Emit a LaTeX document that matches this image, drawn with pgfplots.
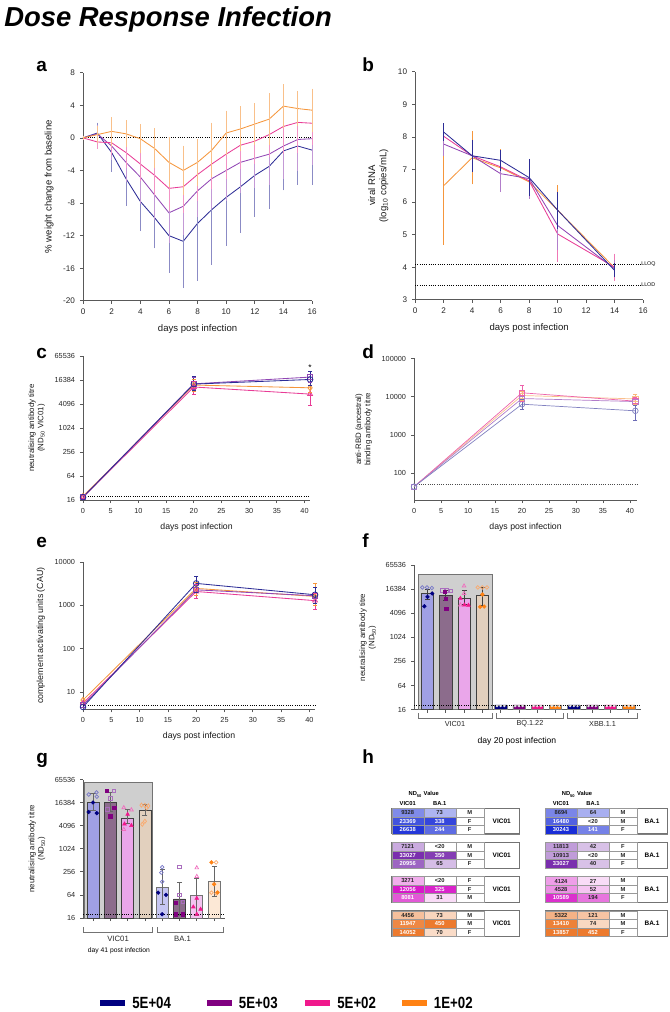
\documentclass[border=0pt]{standalone}
\usepackage{fontspec}
\setmainfont{Liberation Sans}
\newfontfamily\legfont[FakeStretch=0.82]{Liberation Sans}
\usepackage{pgfplots}
\pgfplotsset{compat=1.18}

\definecolor{cB}{RGB}{45,45,150}
\definecolor{cP}{RGB}{145,70,180}
\definecolor{cK}{RGB}{232,60,150}
\definecolor{cO}{RGB}{245,150,60}
\definecolor{lB}{RGB}{0,0,128}
\definecolor{lP}{RGB}{128,0,128}
\definecolor{lK}{RGB}{240,24,140}
\definecolor{lO}{RGB}{255,130,20}
\definecolor{oB}{RGB}{120,120,200}
\definecolor{oP}{RGB}{170,110,190}
\definecolor{oK}{RGB}{240,110,190}
\definecolor{oO}{RGB}{250,170,110}
\definecolor{fB}{RGB}{160,160,228}
\definecolor{fP}{RGB}{140,108,140}
\definecolor{fK}{RGB}{234,166,234}
\definecolor{fO}{RGB}{226,208,190}
\definecolor{gB}{RGB}{198,198,242}
\definecolor{gK}{RGB}{242,196,240}
\definecolor{gO}{RGB}{252,232,214}
\definecolor{tb}{RGB}{25,45,215}
\definecolor{tp}{RGB}{115,35,170}
\definecolor{tk}{RGB}{215,25,200}
\definecolor{to}{RGB}{235,115,35}

\pgfplotsset{
  panel/.style={
    scale only axis, axis lines=left,
    axis line style={-, draw=black!65, line width=0.6pt},
    tick align=outside, major tick length=2.2pt,
    tick style={draw=black!65, line width=0.5pt},
    tick label style={font=\fontsize{5.2}{6}\selectfont, text=black!85},
    label style={font=\fontsize{6.2}{7.5}\selectfont, text=black!90},
    /pgf/number format/assume math mode=true,
    xminorticks=false, yminorticks=false,
    clip=false, anchor=south west,
  },
  errseg/.style={mark=-, mark size=1.5pt, unbounded coords=jump, line width=0.5pt, mark options={solid, line width=0.5pt}},
  ebar/.style={error bars/.cd, y dir=both, y explicit,
    error bar style={#1, line width=0.55pt},
    error mark=-, error mark options={#1, mark size=1.5pt, line width=0.55pt}},
}

% group bracket under a log2 axis starting at 16: from, to, centre, label, top, bottom, label offset, font size
\newcommand\brk[8]{%
  \draw[black!55, line width=0.5pt] ([yshift=-#5]axis cs:#1,16) -- ([yshift=-#6]axis cs:#1,16) -- ([yshift=-#6]axis cs:#2,16) -- ([yshift=-#5]axis cs:#2,16);
  \node[font=\fontsize{#8}{6}\selectfont, text=black!85] at ([yshift=-#7]axis cs:#3,16) {#4};}

\newcommand\tf{\fontsize{4.1}{4.5}\selectfont\bfseries}
\newcommand\tc[6]{\path[fill=#4, draw=black!40, line width=0.25pt] (#1,#2) rectangle ++(#3,8.5);
  \node[font=\tf, text=#5, inner sep=0] at ({#1+#3/2},{#2+4.4}) {#6};}
\newcommand\trow[9]{\tc{#1}{#2}{32}{#3}{#4}{#5}\tc{#1+32}{#2}{32}{#6}{#7}{#8}\tc{#1+64}{#2}{28}{white}{black!85}{#9}}
\newcommand\tblk[4]{\path[draw=black!50, line width=0.35pt, fill=white] ({#1+92},#2) rectangle ++(#3,25.5);
  \node[font=\fontsize{4.6}{5}\selectfont\bfseries] at ({#1+92+#3/2},{#2+12.75}) {#4};
  \draw[black!55, line width=0.45pt] (#1,#2) rectangle ({#1+92+#3},{#2+25.5});}

\begin{document}
\begin{tikzpicture}
\begin{scope}[x=0.025cm, y=-0.025cm]
\path (0,0) rectangle (670,1012);
\node[anchor=north west, inner sep=0, font=\fontsize{19.5}{22}\selectfont\bfseries\itshape] at (4,6) {Dose Response Infection};
\foreach \l/\x/\y in {a/36/72, b/362/72, c/36/358, d/362/358, e/36/547, f/362/547, g/36/763, h/362/763}
  \node[anchor=base west, inner sep=0, font=\fontsize{13.5}{14}\selectfont\bfseries] at (\x,\y) {\l};
\end{scope}

% ---------- a ----------
\begin{axis}[panel, at={(2.075cm,-7.5175cm)}, width=5.725cm, height=5.7cm,
  xmin=0, xmax=16, ymin=-20, ymax=8, xtick={0,2,...,16}, ytick={-20,-16,...,8},
  tick label style={font=\fontsize{5.8}{6}\selectfont},
  label style={font=\fontsize{6.8}{8}\selectfont},
  xlabel={days post infection}, ylabel={\% weight change from baseline}]
\addplot[black, densely dotted, line width=0.6pt] coordinates {(0,0) (16,0)};
\addplot[cB, line width=0.6pt, ebar=cB!55] table[x=d, y=m, y error=s] {
d m s
0 0 0
1 0.6 1.0
2 -1.8 2.1
3 -5.0 3.1
4 -7.8 3.4
5 -9.8 3.5
6 -12.0 4.3
7 -12.7 5.5
8 -10.5 6.8
9 -8.8 6.5
10 -7.3 5.7
11 -6.0 5.4
12 -4.6 4.8
13 -3.5 5.0
14 -1.6 4.6
15 -1.0 4.5
16 -1.5 4.0
};
\addplot[cP, line width=0.6pt, ebar=cP!55] table[x=d, y=m, y error=s] {
d m s
0 0 0
1 0.5 0.8
2 -1.0 1.5
3 -3.0 2.2
4 -4.8 3.0
5 -7.0 2.8
6 -9.2 3.5
7 -8.4 3.3
8 -6.5 3.0
9 -5.0 3.5
10 -4.0 3.5
11 -3.0 3.5
12 -2.5 3.4
13 -2.0 3.5
14 -1.0 3.8
15 -0.2 3.6
16 -0.1 3.0
};
\addplot[cK, line width=0.6pt, ebar=cK!55] table[x=d, y=m, y error=s] {
d m s
0 0 0
1 -0.5 0.6
2 -0.6 1.2
3 -1.8 1.6
4 -3.2 1.8
5 -4.6 2.2
6 -6.2 2.5
7 -6.0 3.0
8 -4.5 3.0
9 -3.2 2.8
10 -2.0 2.8
11 -0.9 2.7
12 -0.4 2.5
13 0.4 2.5
14 1.4 3.1
15 1.9 3.5
16 1.8 2.4
};
\addplot[cO, line width=0.6pt, ebar=cO!60] table[x=d, y=m, y error=s] {
d m s
0 0 0
1 0.4 0.8
2 0.8 1.5
3 0.5 1.4
4 -0.1 1.5
5 -1.3 2.2
6 -3.0 2.8
7 -4.0 2.8
8 -3.0 2.6
9 -1.5 3.1
10 0.6 2.5
11 1.1 2.5
12 1.7 2.3
13 2.3 2.9
14 3.9 2.4
15 3.6 1.9
16 3.4 2.4
};
\end{axis}

% ---------- b ----------
\begin{axis}[panel, at={(10.375cm,-7.4925cm)}, width=5.7cm, height=5.7cm,
  xmin=0, xmax=16, ymin=3, ymax=10, xtick={0,2,...,16}, ytick={3,...,10},
  tick label style={font=\fontsize{5.8}{6}\selectfont},
  label style={font=\fontsize{6.8}{8}\selectfont},
  xlabel={days post infection}, ylabel={viral RNA\\(log\textsubscript{10} copies/mL)}, ylabel style={align=center}]
\addplot[black, densely dotted, line width=0.6pt] coordinates {(0,4.1) (15.8,4.1)};
\addplot[black, densely dotted, line width=0.6pt] coordinates {(0,3.45) (15.8,3.45)};
\node[anchor=west, inner sep=0.5pt, font=\fontsize{3.8}{4}\selectfont] at (axis cs:15.8,4.1) {LLOQ};
\node[anchor=west, inner sep=0.5pt, font=\fontsize{3.8}{4}\selectfont] at (axis cs:15.8,3.45) {LLOD};
\addplot[cO, line width=0.6pt, ebar=cO] table[x=d, y=m, y error=s] {
d m s
2 6.5 1.75
4 7.36 0.75
6 7.05 0.5
8 6.62 0.45
10 5.75 0.7
14 3.98 0.2
};
\addplot[cK, line width=0.6pt, ebar=cK!70] table[x=d, y=m, y error=s] {
d m s
2 8.02 0.15
4 7.42 0.2
6 7.08 0.4
8 6.65 0.4
10 5.02 0.8
14 4.0 0.35
};
\addplot[cP, line width=0.6pt, ebar=cP!70] table[x=d, y=m, y error=s] {
d m s
2 7.78 0.3
4 7.42 0.3
6 6.87 0.5
8 6.72 0.55
10 5.28 0.7
14 3.95 0.2
};
\addplot[cB, line width=0.6pt, ebar=cB] table[x=d, y=m, y error=s] {
d m s
2 8.15 0.2
4 7.42 0.42
6 7.28 0.25
8 6.75 0.5
10 5.75 0.5
14 3.9 0.15
};
\end{axis}

% ---------- c ----------
\begin{axis}[panel, at={(2.075cm,-12.5cm)}, width=5.675cm, height=3.6cm,
  ymode=log, log basis y=2, ymin=16, ymax=65536, xmin=0, xmax=41,
  xtick={0,5,...,40}, ytick={16,64,256,1024,4096,16384,65536},
  yticklabels={16,64,256,1024,4096,16384,65536},
  xlabel={days post infection}, ylabel={neutralising antibody titre\\(ND\textsubscript{50} VIC01)},
  ylabel style={align=center, font=\fontsize{5.6}{6.6}\selectfont}]
\addplot[black, densely dotted, line width=0.6pt] coordinates {(0,20) (41,20)};
\addplot[cO, line width=0.6pt, mark=diamond, mark size=2pt] coordinates {(0,20) (20,12300) (41,10500)};
\addplot[cK, line width=0.6pt, mark=triangle, mark size=2pt] coordinates {(0,19) (20,11000) (41,7300)};
\addplot[cP, line width=0.6pt, mark=square, mark size=1.8pt] coordinates {(0,19) (20,13200) (41,19500)};
\addplot[cB, line width=0.6pt, mark=o, mark size=2pt] coordinates {(0,19) (20,13000) (41,17000)};
\addplot[cK, errseg] coordinates {(20,7000) (20,15000) (nan,nan) (41,3800) (41,12000)};
\addplot[cO, errseg] coordinates {(20,8500) (20,17000) (nan,nan) (41,8000) (41,14000)};
\addplot[cP, errseg] coordinates {(20,9500) (20,19000) (nan,nan) (41,14000) (41,27000)};
\addplot[cB, errseg] coordinates {(20,9000) (20,20000) (nan,nan) (41,12000) (41,27000)};
\node[font=\fontsize{6}{6}\selectfont] at (axis cs:41,34000) {*};
\end{axis}

% ---------- d ----------
\begin{axis}[panel, at={(10.35cm,-12.5cm)}, width=5.57cm, height=3.54cm,
  ymode=log, ymin=20, ymax=100000, xmin=0, xmax=41.3,
  xtick={0,5,...,40}, ytick={100,1000,10000,100000},
  yticklabels={100,1000,10000,100000},
  xlabel={days post infection}, ylabel={anti-RBD (ancestral)\\binding antibody titre},
  ylabel style={align=center, font=\fontsize{5.6}{6.6}\selectfont}]
\addplot[black!70, densely dotted, line width=0.6pt] coordinates {(0,50) (41.3,50)};
\addplot[cO!60, line width=0.5pt, mark=square, mark size=1.8pt] coordinates {(0,45) (20,10800) (41,8800)};
\addplot[cK!80, line width=0.5pt, mark=square, mark size=1.8pt] coordinates {(0,45) (20,12700) (41,7700)};
\addplot[cP!70, line width=0.5pt, mark=square, mark size=1.8pt] coordinates {(0,45) (20,9000) (41,7500)};
\addplot[cB!60, line width=0.5pt, mark=o, mark size=2pt] coordinates {(0,45) (20,6400) (41,4300)};
\addplot[cK!80, errseg] coordinates {(20,7500) (20,20000) (nan,nan) (41,6200) (41,9500)};
\addplot[cO!70, errseg] coordinates {(20,8000) (20,14000) (nan,nan) (41,6500) (41,11500)};
\addplot[cB!70, errseg] coordinates {(20,4600) (20,8500) (nan,nan) (41,2450) (41,6000)};
\end{axis}

% ---------- e ----------
\begin{axis}[panel, at={(2.075cm,-17.725cm)}, width=5.8cm, height=3.68cm,
  ymode=log, ymin=4, ymax=10000, xmin=0, xmax=41,
  xtick={0,5,...,40}, ytick={10,100,1000,10000},
  yticklabels={10,100,1000,10000},
  xlabel={days post infection}, ylabel={complement activating units (CAU)},
  ylabel style={font=\fontsize{6.3}{7}\selectfont}]
\addplot[black, densely dotted, line width=0.6pt] coordinates {(0,5) (41,5)};
\addplot[cO, line width=0.6pt, mark=diamond, mark size=2pt] coordinates {(0,6.5) (20,2450) (41,1600)};
\addplot[cK, line width=0.6pt, mark=triangle, mark size=2pt] coordinates {(0,5.5) (20,2080) (41,1280)};
\addplot[cP, line width=0.6pt, mark=square, mark size=1.8pt] coordinates {(0,5) (20,2270) (41,1660)};
\addplot[cB, line width=0.6pt, mark=o, mark size=2pt] coordinates {(0,4.5) (20,3200) (41,1750)};
\addplot[cK, errseg] coordinates {(20,1450) (20,3000) (nan,nan) (41,800) (41,1900)};
\addplot[cO, errseg] coordinates {(20,1700) (20,3400) (nan,nan) (41,1000) (41,3200)};
\addplot[cB, errseg] coordinates {(20,2000) (20,4700) (nan,nan) (41,1100) (41,2600)};
\end{axis}

% ---------- f ----------
\begin{axis}[panel, at={(10.35cm,-17.7325cm)}, width=5.675cm, height=3.6cm,
  ymode=log, log basis y=2, ymin=16, ymax=65536, xmin=-0.73, xmax=11.68,
  log origin y=infty,
  xtick={0,...,11}, xticklabels={}, ytick={16,64,256,1024,4096,16384,65536},
  yticklabels={16,64,256,1024,4096,16384,65536},
  ylabel={neutralising antibody titre\\(ND\textsubscript{50})},
  ylabel style={align=center, font=\fontsize{5.6}{6.6}\selectfont}]
\draw[fill=black!19, draw=black!55, line width=0.5pt] (axis cs:-0.52,16) rectangle (axis cs:3.52,39000);
\addplot[ybar, bar width=0.67, bar shift=0pt, fill=fB, draw=black!75, line width=0.5pt] coordinates {(0,13000)};
\addplot[ybar, bar width=0.67, bar shift=0pt, fill=fP, draw=black!75, line width=0.5pt] coordinates {(1,11600)};
\addplot[ybar, bar width=0.67, bar shift=0pt, fill=fK, draw=black!75, line width=0.5pt] coordinates {(2,10000)};
\addplot[ybar, bar width=0.67, bar shift=0pt, fill=fO, draw=black!75, line width=0.5pt] coordinates {(3,11600)};
\addplot[ybar, bar width=0.67, bar shift=0pt, fill=lB, draw=black!50, line width=0.4pt] coordinates {(4,21) (8,21)};
\addplot[ybar, bar width=0.67, bar shift=0pt, fill=lP, draw=black!50, line width=0.4pt] coordinates {(5,21) (9,21)};
\addplot[ybar, bar width=0.67, bar shift=0pt, fill=lK, draw=black!50, line width=0.4pt] coordinates {(6,21) (10,21)};
\addplot[ybar, bar width=0.67, bar shift=0pt, fill=lO, draw=black!50, line width=0.4pt] coordinates {(7,21) (11,21)};
\addplot[only marks, mark=*, mark size=0.6pt, white!80!gray] coordinates {(3.8,19.5) (4,19.5) (4.2,19.5) (4.8,19.5) (5,19.5) (5.2,19.5) (5.8,19.5) (6,19.5) (6.2,19.5) (6.8,19.5) (7,19.5) (7.2,19.5) (7.8,19.5) (8,19.5) (8.2,19.5) (8.8,19.5) (9,19.5) (9.2,19.5) (9.8,19.5) (10,19.5) (10.2,19.5) (10.8,19.5) (11,19.5) (11.2,19.5)};
\addplot[black, densely dotted, line width=0.6pt] coordinates {(-0.73,20) (11.68,20)};
\addplot[black!75, errseg, mark size=1.8pt] coordinates {(0,9000) (0,16800) (nan,nan) (1,8500) (1,16000) (nan,nan) (2,7000) (2,15500) (nan,nan) (3,6500) (3,18400)};
\addplot[only marks, mark=o, mark size=1.3pt, oB, line width=0.5pt] coordinates {(-0.28,18400) (-0.02,18400) (0.24,17800)};
\addplot[only marks, mark=*, mark size=1.3pt, lB] coordinates {(0.0,10700) (0.26,13000) (-0.17,6200)};
\addplot[only marks, mark=square, mark size=1.2pt, oP, line width=0.5pt] coordinates {(0.82,15500) (1.05,15500) (1.28,15200)};
\addplot[only marks, mark=square*, mark size=1.2pt, lP] coordinates {(0.95,14300) (1.0,9700) (1.02,5400)};
\addplot[only marks, mark=triangle, mark size=1.5pt, oK, line width=0.5pt] coordinates {(2.0,20000) (2.0,13000) (1.8,6700)};
\addplot[only marks, mark=triangle*, mark size=1.5pt, lK] coordinates {(1.8,9800) (2.24,6600) (2.02,6700)};
\addplot[only marks, mark=o, mark size=1.3pt, oO, line width=0.5pt] coordinates {(2.75,18400) (3.0,18400) (3.25,18400)};
\addplot[only marks, mark=*, mark size=1.3pt, lO] coordinates {(3.0,12300) (2.88,6000) (3.1,6100)};
\brk{-0.52}{3.52}{1.5}{VIC01}{2.6pt}{6.2pt}{10.4pt}{5.2}
\brk{3.79}{7.4}{5.6}{BQ.1.22}{2.6pt}{6.2pt}{10.4pt}{5.2}
\brk{7.65}{11.48}{9.57}{XBB.1.1}{2.6pt}{6.2pt}{10.4pt}{5.2}
\node[font=\fontsize{6.1}{7}\selectfont] at ([yshift=-22.3pt]axis cs:4.89,16) {day 20 post infection};
\end{axis}

% ---------- g ----------
\begin{axis}[panel, at={(2.0825cm,-22.9425cm)}, width=3.54cm, height=3.46cm,
  ymode=log, log basis y=2, ymin=16, ymax=65536, xmin=-0.56, xmax=7.63,
  log origin y=infty,
  xtick={0,...,7}, xticklabels={}, ytick={16,64,256,1024,4096,16384,65536},
  yticklabels={16,64,256,1024,4096,16384,65536},
  ylabel={neutralising antibody titre\\(ND\textsubscript{50})},
  ylabel style={align=center, font=\fontsize{5.6}{6.6}\selectfont}]
\draw[fill=black!19, draw=black!55, line width=0.5pt] (axis cs:-0.5,16) rectangle (axis cs:3.43,54700);
\addplot[ybar, bar width=0.69, bar shift=0pt, fill=fB, draw=black!75, line width=0.5pt] coordinates {(0,17100)};
\addplot[ybar, bar width=0.69, bar shift=0pt, fill=fP, draw=black!75, line width=0.5pt] coordinates {(1,16600) (5,50)};
\addplot[ybar, bar width=0.69, bar shift=0pt, fill=fK, draw=black!75, line width=0.5pt] coordinates {(2,6300)};
\addplot[ybar, bar width=0.69, bar shift=0pt, fill=fO, draw=black!75, line width=0.5pt] coordinates {(3,10000)};
\addplot[ybar, bar width=0.69, bar shift=0pt, fill=gB, draw=black!55, line width=0.5pt] coordinates {(4,100)};
\addplot[ybar, bar width=0.69, bar shift=0pt, fill=gK, draw=black!55, line width=0.5pt] coordinates {(6,61)};
\addplot[ybar, bar width=0.69, bar shift=0pt, fill=gO, draw=black!55, line width=0.5pt] coordinates {(7,145)};
\addplot[black, densely dotted, line width=0.6pt] coordinates {(-0.56,19.5) (7.63,19.5)};
\addplot[black!60, errseg, mark size=1.8pt] coordinates {(0,10400) (0,28000) (nan,nan) (1,9400) (1,31000) (nan,nan) (2,4800) (2,11000) (nan,nan) (3,7600) (3,14600) (nan,nan) (4,36) (4,290) (nan,nan) (5,19) (5,134) (nan,nan) (6,19) (6,177) (nan,nan) (7,59) (7,357)};
\addplot[only marks, mark=o, mark size=1.3pt, oB, line width=0.5pt] coordinates {(-0.25,26638) (0.2,30243) (0.22,23369) (4.0,338) (3.95,244) (4.0,141)};
\addplot[only marks, mark=*, mark size=1.3pt, lB] coordinates {(0,16480) (-0.25,9328) (0.22,8694) (3.77,73) (4.22,64) (4.0,20)};
\addplot[only marks, mark=square, mark size=1.2pt, oP, line width=0.5pt] coordinates {(1.22,33027) (1.0,20956) (0.82,10913) (5.0,350) (5.0,65) (5.2,42)};
\addplot[only marks, mark=square*, mark size=1.2pt, lP] coordinates {(0.8,33027) (1.22,11813) (1.0,7121) (4.8,20) (5.2,20) (4.8,40)};
\addplot[only marks, mark=triangle, mark size=1.5pt, oK, line width=0.5pt] coordinates {(1.78,12056) (2.22,10589) (1.78,3271) (6.0,325) (6.0,194)};
\addplot[only marks, mark=triangle*, mark size=1.5pt, lK] coordinates {(2.0,8081) (1.82,4528) (2.22,4124) (6.0,52) (5.8,31) (6.22,27) (6.0,20)};
\addplot[only marks, mark=diamond, mark size=1.5pt, oO, line width=0.5pt] coordinates {(2.8,14052) (3.0,13857) (3.2,13410) (3.1,11947) (2.85,4456) (3.0,5322)};
\addplot[only marks, mark=o, mark size=1.3pt, oO, line width=0.5pt] coordinates {(7.12,450) (6.85,73) (7.15,70)};
\addplot[only marks, mark=*, mark size=1.3pt, lO] coordinates {(6.85,452) (7.0,121) (7.2,74)};
\brk{-0.56}{3.43}{1.45}{VIC01}{6.6pt}{10.1pt}{15.1pt}{5.5}
\brk{3.74}{7.53}{5.18}{BA.1}{6.6pt}{10.1pt}{15.1pt}{5.5}
\node[font=\fontsize{4.8}{6}\selectfont] at ([yshift=-23.6pt]axis cs:1.5,16) {day 41 post infection};
\end{axis}

\begin{scope}[x=0.025cm, y=-0.025cm]
% ---------- h (table) ----------
\foreach \L in {391.7, 545} {
  \node[font=\tf] at ({\L+32},794.3) {ND\textsubscript{50} Value};
  \node[font=\tf] at ({\L+16},803.7) {VIC01};
  \node[font=\tf] at ({\L+48},803.7) {BA.1};
}
% blue
\tblk{391.7}{808.3}{36}{VIC01}
\trow{391.7}{808.3}{tb!55}{black!85}{9328}{tb!35}{black!85}{73}{M}
\trow{391.7}{816.8}{tb!82}{white}{23369}{tb!88}{white}{338}{F}
\trow{391.7}{825.3}{tb!95}{white}{26638}{tb!70}{white}{244}{F}
\tblk{545}{808.3}{30}{BA.1}
\trow{545}{808.3}{tb!58}{black!85}{8694}{tb!38}{black!85}{64}{M}
\trow{545}{816.8}{tb!75}{white}{16480}{white}{black!85}{<20}{M}
\trow{545}{825.3}{tb!100}{white}{30243}{tb!60}{white}{141}{F}
% purple
\tblk{391.7}{842.4}{36}{VIC01}
\trow{391.7}{842.4}{tp!38}{black!85}{7121}{white}{black!85}{<20}{M}
\trow{391.7}{850.9}{tp!95}{white}{33027}{tp!88}{white}{350}{M}
\trow{391.7}{859.4}{tp!70}{white}{20956}{tp!30}{black!85}{65}{F}
\tblk{545}{842.4}{30}{BA.1}
\trow{545}{842.4}{tp!45}{black!85}{11813}{tp!28}{black!85}{42}{F}
\trow{545}{850.9}{tp!45}{black!85}{10913}{white}{black!85}{<20}{M}
\trow{545}{859.4}{tp!95}{white}{33027}{tp!28}{black!85}{40}{F}
% pink
\tblk{391.7}{876.6}{36}{VIC01}
\trow{391.7}{876.6}{tk!35}{black!85}{3271}{white}{black!85}{<20}{F}
\trow{391.7}{885.1}{tk!100}{white}{12056}{tk!95}{white}{325}{F}
\trow{391.7}{893.6}{tk!72}{white}{8081}{tk!15}{black!85}{31}{M}
\tblk{545}{876.6}{30}{BA.1}
\trow{545}{876.6}{tk!42}{black!85}{4124}{tk!15}{black!85}{27}{M}
\trow{545}{885.1}{tk!48}{black!85}{4528}{tk!25}{black!85}{52}{M}
\trow{545}{893.6}{tk!90}{white}{10589}{tk!60}{black!85}{194}{F}
% orange
\tblk{391.7}{910.7}{36}{VIC01}
\trow{391.7}{910.7}{to!45}{black!85}{4456}{to!30}{black!85}{73}{M}
\trow{391.7}{919.2}{to!85}{white}{11947}{to!95}{white}{450}{M}
\trow{391.7}{927.7}{to!95}{white}{14052}{to!25}{black!85}{70}{F}
\tblk{545}{910.7}{30}{BA.1}
\trow{545}{910.7}{to!55}{black!85}{5322}{to!42}{black!85}{121}{M}
\trow{545}{919.2}{to!90}{white}{13410}{to!28}{black!85}{74}{M}
\trow{545}{927.7}{to!95}{white}{13857}{to!95}{white}{452}{F}

% ---------- legend ----------
\foreach \x/\c/\t in {100/lB/5E+04, 206.7/lP/5E+03, 305/lK/5E+02, 401.7/lO/1E+02} {
  \fill[\c] (\x,1000) rectangle ({\x+25},1006);
  \node[anchor=west, inner sep=0, font=\legfont\fontsize{11.5}{12}\selectfont\bfseries] at ({\x+32},1003) {\t};
}
\end{scope}
\end{tikzpicture}
\end{document}
